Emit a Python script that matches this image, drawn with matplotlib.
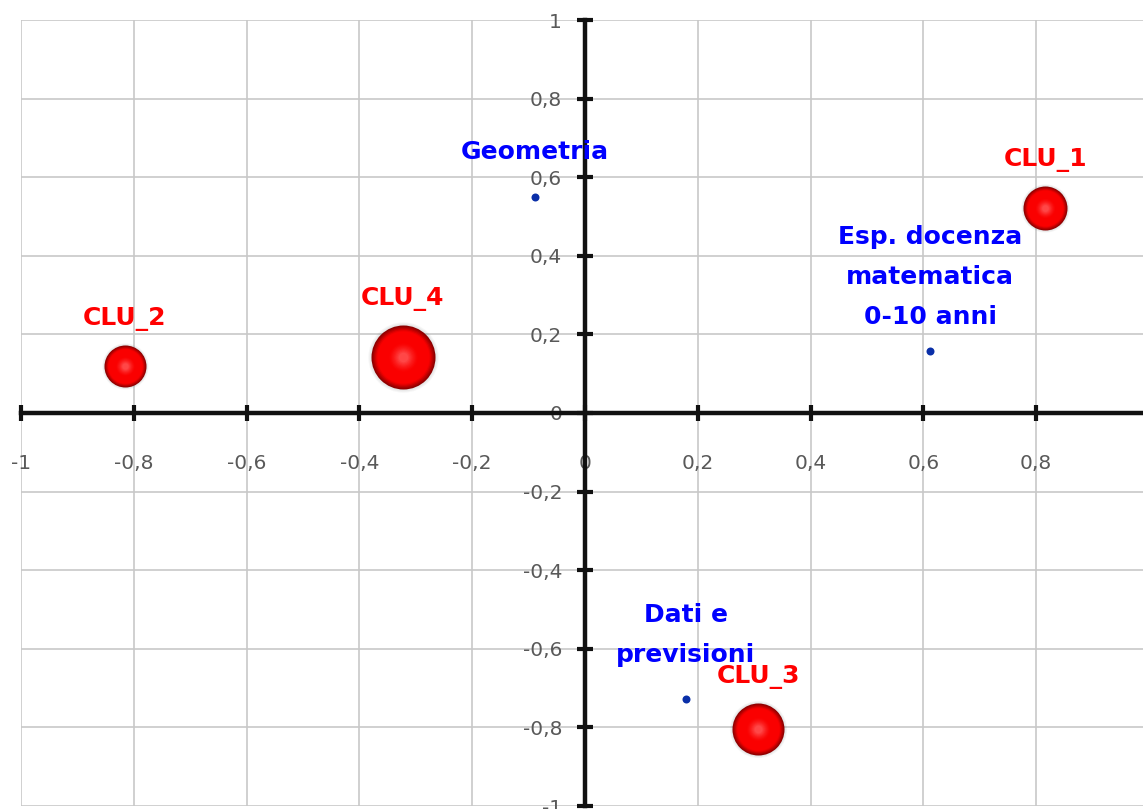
import matplotlib
matplotlib.use("Agg")
import matplotlib.pyplot as plt
import matplotlib.transforms as mtrans
import numpy as np

plt.rcParams['font.family'] = ['DejaVu Sans']

# cluster centres (bubbles) and variable points
clu_names = ['CLU_1', 'CLU_2', 'CLU_3', 'CLU_4']
clu_x = [0.816, -0.816, 0.307, -0.323]
clu_y = [0.522, 0.120, -0.804, 0.142]
clu_size = [22, 21, 26, 32]          # bubble radius

var_names = ['Geometria', 'Esp. docenza\nmatematica\n0-10 anni', 'Dati e\nprevisioni']
var_x = [-0.089, 0.612, 0.179]
var_y = [0.550, 0.158, -0.728]

ticks = [-1, -0.8, -0.6, -0.4, -0.2, 0, 0.2, 0.4, 0.6, 0.8, 1]
tick_labels = ['-1', '-0,8', '-0,6', '-0,4', '-0,2', '0', '0,2', '0,4', '0,6', '0,8', '1']

W, H = 1143, 809
fig = plt.figure(figsize=(W / 100, H / 100), dpi=100)
ax = fig.add_axes([21 / W, 3 / H, 1128 / W, 786 / H])
ax.set_xlim(-1, 1)
ax.set_ylim(-1, 1)

for t in ticks:
    ax.axvline(t, color='#c8c8c8', lw=1.2, zorder=0)
    ax.axhline(t, color='#c8c8c8', lw=1.2, zorder=0)

for s in ['top', 'right']:
    ax.spines[s].set_visible(False)
for s in ['left', 'bottom']:
    ax.spines[s].set_position('zero')
    ax.spines[s].set_linewidth(3.2)
    ax.spines[s].set_color('#111111')
    ax.spines[s].set_zorder(2)

# the x label "1" falls outside the figure
ax.set_xticks(ticks)
ax.set_yticks(ticks)
ax.set_xticklabels(tick_labels[:-1] + [''])
ax.set_yticklabels(tick_labels)
ax.tick_params(axis='both', direction='inout', length=11, width=3, color='#111111',
               labelsize=14.5, labelcolor='#595959')
ax.tick_params(axis='x', pad=24)
ax.tick_params(axis='y', pad=11)

px = 72 / fig.dpi   # points per pixel


def shifted(dx, dy):
    return ax.transData + mtrans.ScaledTranslation(dx / fig.dpi, dy / fig.dpi, mtrans.IdentityTransform())


# bubbles drawn as shaded spheres
for name, x, y, r in zip(clu_names, clu_x, clu_y, clu_size):
    # soft shadow
    for k in range(10):
        rr = r * (1.10 - k * 0.03)
        ax.scatter([x], [y], s=(2 * rr * px) ** 2, color='#666666', alpha=0.05,
                   lw=0, transform=shifted(r * 0.10, -r * 0.22), zorder=3)
    n = 24
    c0 = np.array([0.55, 0.0, 0.0])
    c1 = np.array([0.98, 0.0, 0.0])
    c2 = np.array([1.0, 0.28, 0.28])
    for k in range(n):
        f = k / (n - 1)
        rr = r * (1 - 0.85 * f)
        off = r * 0.32 * f
        if f < 0.6:
            col = c0 + (c1 - c0) * min(1, f / 0.2)
        else:
            col = c1 + (c2 - c1) * ((f - 0.6) / 0.4) ** 1.5
        ax.scatter([x], [y], s=(2 * rr * px) ** 2, color=tuple(col), lw=0,
                   transform=shifted(-off * 0.5, off), zorder=4)
    ax.annotate(name, (x, y), xytext=(0, r + 26), textcoords='offset pixels',
                ha='center', va='center', color='#ff0000', fontsize=18,
                fontweight='bold', zorder=6)

ax.scatter(var_x, var_y, s=(8 * px) ** 2, color='#0a2fa8', lw=0, zorder=5)
offsets = [(0, 45), (0, 74), (0, 64)]
for name, x, y, o in zip(var_names, var_x, var_y, offsets):
    ax.annotate(name, (x, y), xytext=o, textcoords='offset pixels',
                ha='center', va='center', color='#0000ff', fontsize=18,
                fontweight='bold', linespacing=1.85, zorder=6)

fig.savefig('out.png', dpi=100)
